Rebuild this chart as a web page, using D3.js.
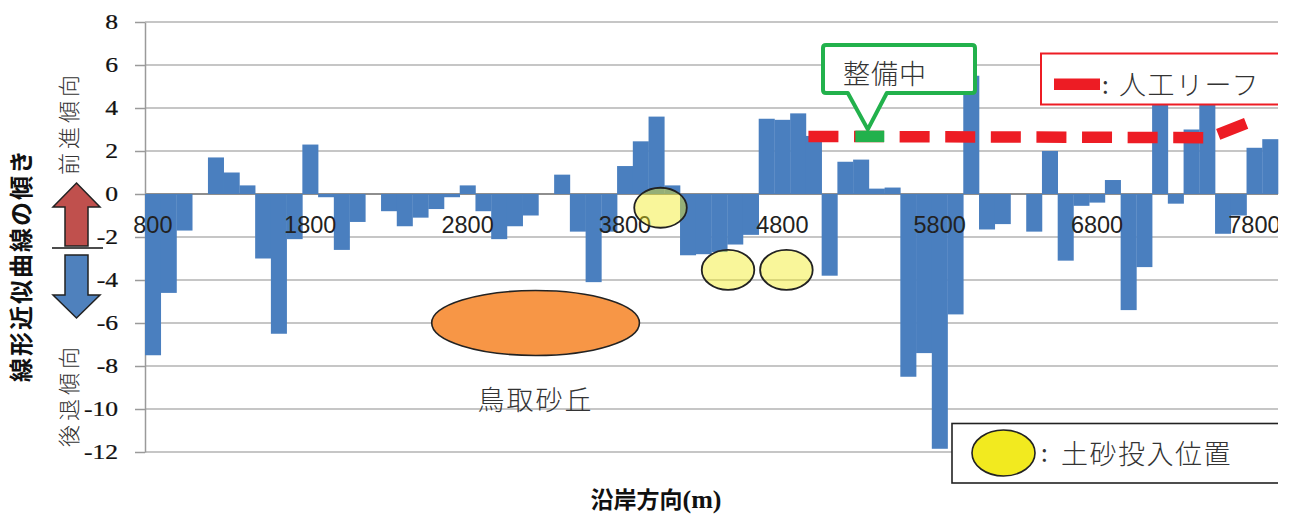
<!DOCTYPE html>
<html>
<head>
<meta charset="utf-8">
<script src="https://cdn.jsdelivr.net/npm/d3@7/dist/d3.min.js"></script>
<style>
  html, body { margin: 0; padding: 0; background: #fff; }
  svg { display: block; }
</style>
</head>
<body>
<svg id="chart" width="1291" height="516"></svg>
<script>
// ---------------- DATA ----------------
const categories = [800, 900, 1000, 1100, 1200, 1300, 1400, 1500, 1600, 1700,
  1800, 1900, 2000, 2100, 2200, 2300, 2400, 2500, 2600, 2700,
  2800, 2900, 3000, 3100, 3200, 3300, 3400, 3500, 3600, 3700,
  3800, 3900, 4000, 4100, 4200, 4300, 4400, 4500, 4600, 4700,
  4800, 4900, 5000, 5100, 5200, 5300, 5400, 5500, 5600, 5700,
  5800, 5900, 6000, 6100, 6200, 6300, 6400, 6500, 6600, 6700,
  6800, 6900, 7000, 7100, 7200, 7300, 7400, 7500, 7600, 7700,
  7800, 7900];
const values = [-7.5, -4.6, -1.7, 0, 1.7, 1.0, 0.4, -3.0, -6.5, -2.1,
  2.3, -0.15, -2.6, -1.3, 0, -0.8, -1.5, -1.1, -0.7, -0.15,
  0.4, -0.8, -2.1, -1.5, -1.0, 0, 0.9, -1.75, -4.1, -1.75,
  1.3, 2.45, 3.6, 0.4, -2.85, -2.8, -2.7, -2.35, -1.9, 3.5,
  3.45, 3.75, 2.7, -3.8, 1.5, 1.6, 0.25, 0.3, -8.5, -7.4,
  -11.85, -5.6, 5.5, -1.65, -1.4, 0, -1.75, 2.0, -3.1, -0.55,
  -0.4, 0.65, -5.4, -3.4, 4.6, -0.45, 3.0, 4.6, -1.85, -1.0,
  2.15, 2.55];
const xTickLabels = [800, 1800, 2800, 3800, 4800, 5800, 6800, 7800];
const yTicks = [8, 6, 4, 2, 0, -2, -4, -6, -8, -10, -12];

// annotation shapes in data units (metres along coast, slope value)
const reefLineX = [4966, 7515, 7770];
const reefLineY = [2.68, 2.62, 3.35];
const workMarkX = [5264, 5448];       // green "整備中" segment
const workMarkY = 2.68;
const sandDropX = [4026, 4455, 4826]; // yellow ellipse centres
const sandDropY = [-0.64, -3.53, -3.53];
const sandDropRx = 167, sandDropRy = 0.93;
const duneX = 3232, duneY = -6.0, duneRx = 660, duneRy = 1.51;

// ---------------- LAYOUT ----------------
const svg = d3.select("#chart");
const plot = { left: 145, right: 1278, top: 22, bottom: 452 };
const JP = "'Noto Sans CJK JP', 'Noto Sans CJK SC', sans-serif";

const x = d3.scaleBand().domain(categories).range([plot.left, plot.right]).padding(0);
const xm = d3.scaleLinear()
  .domain([categories[0] - 50, categories[categories.length - 1] + 50])
  .range([plot.left, plot.right]);
const y = d3.scaleLinear().domain([-12, 8]).range([plot.bottom, plot.top]);
const ryPx = v => Math.abs(y(0) - y(v));
const rxPx = m => Math.abs(xm(m) - xm(0));

// clip for elements cut at the right edge
svg.append("clipPath").attr("id", "clipR").attr("clipPathUnits", "userSpaceOnUse")
  .append("rect").attr("x", 0).attr("y", -600).attr("width", plot.right).attr("height", 1800);

// gridlines
svg.append("g").selectAll("line").data(yTicks.filter(d => d !== 0)).join("line")
  .attr("x1", plot.left).attr("x2", plot.right)
  .attr("y1", d => y(d)).attr("y2", d => y(d))
  .attr("stroke", "#b3b3b3").attr("stroke-width", 1.5);
// zero line
svg.append("line")
  .attr("x1", plot.left).attr("x2", plot.right)
  .attr("y1", y(0)).attr("y2", y(0))
  .attr("stroke", "#8e8e8e").attr("stroke-width", 2.2);

// left axis
const yPad = 17, yTickLen = 10, yScaleX = 1.22;
const yAxis = d3.axisLeft(y).tickValues(yTicks).tickSize(yTickLen).tickSizeOuter(0)
  .tickPadding(yPad).tickFormat(d => String(d));
const gy = svg.append("g")
  .attr("transform", `translate(${plot.left},0)`).call(yAxis);
gy.attr("font-family", "Liberation Serif").attr("font-size", 21);
gy.select(".domain").attr("stroke", "#9a9a9a").attr("stroke-width", 1.5);
gy.selectAll(".tick line").attr("stroke", "#9a9a9a").attr("stroke-width", 1.5);
gy.selectAll(".tick text")
  .attr("x", -(yPad + yTickLen) / yScaleX)
  .attr("transform", `scale(${yScaleX},1)`)
  .attr("font-family", "Liberation Serif")
  .attr("font-size", 21)
  .attr("fill", "#111")
  .attr("stroke", "#111").attr("stroke-width", 0.25);

// bars
svg.append("g").selectAll("rect").data(categories).join("rect")
  .attr("x", d => x(d))
  .attr("width", x.bandwidth() + 0.3)
  .attr("y", (d, i) => y(Math.max(0, values[i])))
  .attr("height", (d, i) => Math.abs(y(values[i]) - y(0)))
  .attr("fill", "#4a7fbf");

// x axis labels (next to the zero line)
const xAxis = d3.axisBottom(x).tickValues(xTickLabels).tickSize(0).tickSizeOuter(0)
  .tickPadding(22).tickFormat(d => String(d));
const gxWrap = svg.append("g").attr("clip-path", "url(#clipR)");
const gx = gxWrap.append("g").attr("transform", `translate(0,${y(0)})`).call(xAxis);
gx.select(".domain").remove();
gx.selectAll(".tick text")
  .style("font-family", "'Liberation Sans', Arial, sans-serif")
  .style("font-size", "23.5px").attr("fill", "#222");

// yellow sand-drop ellipses
svg.append("g").selectAll("ellipse").data(sandDropX).join("ellipse")
  .attr("cx", d => xm(d)).attr("cy", (d, i) => y(sandDropY[i]))
  .attr("rx", rxPx(sandDropRx)).attr("ry", ryPx(sandDropRy))
  .attr("fill", "rgba(242,234,31,0.45)")
  .attr("stroke", "#222").attr("stroke-width", 1.8);

// orange dune ellipse
svg.append("ellipse")
  .attr("cx", xm(duneX)).attr("cy", y(duneY))
  .attr("rx", rxPx(duneRx)).attr("ry", ryPx(duneRy))
  .attr("fill", "#f79646").attr("stroke", "#222").attr("stroke-width", 1.6);
svg.append("text").attr("x", xm(duneX)).attr("y", 410)
  .attr("text-anchor", "middle").attr("font-family", JP).attr("font-weight", 300)
  .attr("font-size", 27).attr("letter-spacing", 2).attr("fill", "#333").text("鳥取砂丘");

// red reef dashed line
const reefPts = reefLineX.map((d, i) => [xm(d), y(reefLineY[i])]);
svg.append("path").attr("d", d3.line()(reefPts))
  .attr("fill", "none").attr("stroke", "#ed1c24").attr("stroke-width", 11.5)
  .attr("stroke-dasharray", "30 15.6");
// green segment
svg.append("line")
  .attr("x1", xm(workMarkX[0])).attr("x2", xm(workMarkX[1]))
  .attr("y1", y(workMarkY)).attr("y2", y(workMarkY))
  .attr("stroke", "#22b14c").attr("stroke-width", 11.5);

// green callout
const tipX = (xm(workMarkX[0]) + xm(workMarkX[1])) / 2 - 2, tipY = y(workMarkY) - 7;
const bx0 = 823, bx1 = 975, by0 = 45, by1 = 93;
const callout = `M${bx0 + 3},${by0} L${bx1 - 3},${by0} Q${bx1},${by0} ${bx1},${by0 + 3} L${bx1},${by1 - 3} Q${bx1},${by1} ${bx1 - 3},${by1}
  L${tipX + 19},${by1} L${tipX},${tipY} L${tipX - 20},${by1} L${bx0 + 3},${by1} Q${bx0},${by1} ${bx0},${by1 - 3}
  L${bx0},${by0 + 3} Q${bx0},${by0} ${bx0 + 3},${by0} Z`;
svg.append("path").attr("d", callout).attr("fill", "#fff")
  .attr("stroke", "#22b14c").attr("stroke-width", 4).attr("stroke-linejoin", "round");
svg.append("text").attr("x", 843).attr("y", 84)
  .attr("font-family", JP).attr("font-weight", 300).attr("font-size", 27)
  .attr("letter-spacing", 1).attr("fill", "#333").text("整備中");

// legend: reef
const lg1 = svg.append("g").attr("clip-path", "url(#clipR)");
lg1.append("rect").attr("x", 1041).attr("y", 53.5).attr("width", 240).attr("height", 51)
  .attr("fill", "#fff").attr("stroke", "#ed1c24").attr("stroke-width", 2);
lg1.append("rect").attr("x", 1054).attr("y", 78.5).attr("width", 46).attr("height", 11.5).attr("fill", "#ed1c24");
lg1.append("text").attr("x", 1102).attr("y", 94).attr("font-family", JP).attr("font-size", 24)
  .attr("fill", "#333").text(":");
lg1.append("text").attr("x", 1119).attr("y", 95).attr("font-family", JP).attr("font-weight", 300)
  .attr("font-size", 27).attr("letter-spacing", 1.5).attr("fill", "#333").text("人工リーフ");

// legend: sand drop
const lg2 = svg.append("g").attr("clip-path", "url(#clipR)");
lg2.append("rect").attr("x", 952).attr("y", 423.5).attr("width", 330).attr("height", 59.5)
  .attr("fill", "#fff").attr("stroke", "#222").attr("stroke-width", 1.6);
lg2.append("ellipse").attr("cx", 1003.5).attr("cy", 453).attr("rx", 31.5).attr("ry", 23)
  .attr("fill", "#f2ea1f").attr("stroke", "#222").attr("stroke-width", 1.6);
lg2.append("text").attr("x", 1041).attr("y", 462).attr("font-family", JP).attr("font-size", 24)
  .attr("fill", "#333").text(":");
lg2.append("text").attr("x", 1061).attr("y", 464).attr("font-family", JP).attr("font-weight", 300)
  .attr("font-size", 27).attr("letter-spacing", 1.5).attr("fill", "#333").text("土砂投入位置");

// y-axis title and direction labels
svg.append("text").attr("transform", "translate(30,265) rotate(-90)")
  .attr("text-anchor", "middle").attr("font-family", JP).attr("font-weight", 700)
  .attr("font-size", 24).attr("letter-spacing", 2).attr("fill", "#111").text("線形近似曲線の傾き");
svg.append("text").attr("transform", "translate(77,123) rotate(-90)")
  .attr("text-anchor", "middle").attr("font-family", JP).attr("font-weight", 300)
  .attr("font-size", 22).attr("letter-spacing", 4).attr("fill", "#333").text("前進傾向");
svg.append("text").attr("transform", "translate(77,395) rotate(-90)")
  .attr("text-anchor", "middle").attr("font-family", JP).attr("font-weight", 300)
  .attr("font-size", 22).attr("letter-spacing", 4).attr("fill", "#333").text("後退傾向");

// arrows
const upArrow = [[76.5, 183], [100, 207], [88, 207], [88, 246], [65, 246], [65, 207], [53, 207]];
const downArrow = [[65, 255], [88, 255], [88, 295], [100, 295], [76.5, 318], [53, 295], [65, 295]];
svg.append("polygon").attr("points", upArrow.map(p => p.join(",")).join(" "))
  .attr("fill", "#c0504d").attr("stroke", "#222").attr("stroke-width", 1.5);
svg.append("polygon").attr("points", downArrow.map(p => p.join(",")).join(" "))
  .attr("fill", "#4f81bd").attr("stroke", "#222").attr("stroke-width", 1.5);
svg.append("line").attr("x1", 52).attr("x2", 103).attr("y1", 248).attr("y2", 248)
  .attr("stroke", "#111").attr("stroke-width", 1.5);

// x-axis title
const xt = svg.append("text").attr("x", 656).attr("y", 508).attr("text-anchor", "middle")
  .attr("font-family", JP).attr("font-weight", 700).attr("font-size", 23).attr("fill", "#111");
xt.append("tspan").text("沿岸方向");
xt.append("tspan").attr("font-family", "Liberation Serif").attr("font-weight", 700)
  .attr("font-size", 26).text("(m)");
</script>
</body>
</html>
